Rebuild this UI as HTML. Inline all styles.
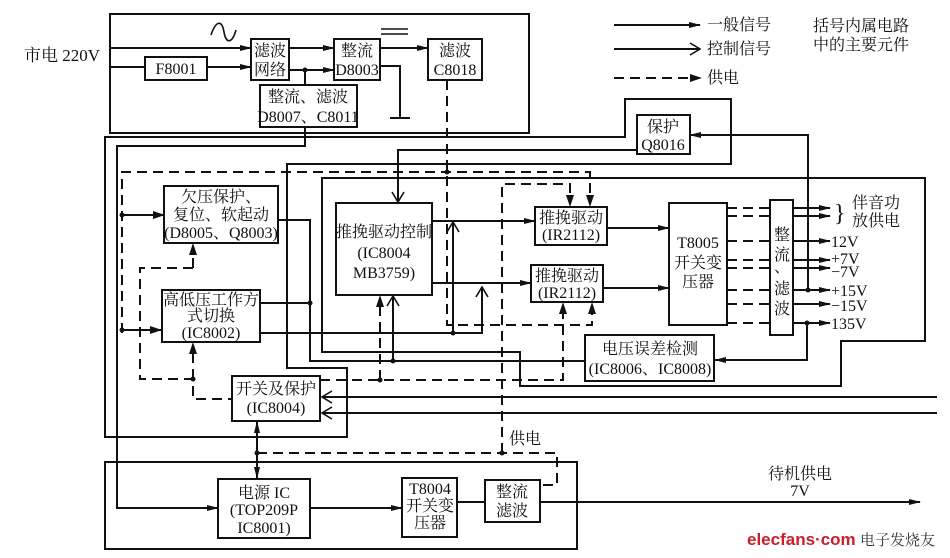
<!DOCTYPE html>
<html><head><meta charset="utf-8"><style>
html,body{margin:0;padding:0;background:#fff;}
svg{display:block;}
text{font-family:"Liberation Serif","Noto Serif CJK SC","Noto Sans CJK SC",serif;fill:#111;font-size:16px;}
.t{text-anchor:middle;}
</style></head><body>
<svg width="950" height="558" viewBox="0 0 950 558" xmlns="http://www.w3.org/2000/svg">
<defs>
<marker id="f" markerWidth="12" markerHeight="8" refX="11" refY="4" orient="auto" markerUnits="userSpaceOnUse"><path d="M0,1 L12,4 L0,7 Z" fill="#111"/></marker>
<marker id="o" markerWidth="12" markerHeight="14" refX="11" refY="7" orient="auto" markerUnits="userSpaceOnUse"><path d="M1,1 L11,7 L1,13" fill="none" stroke="#111" stroke-width="1.6"/></marker>
</defs>
<g fill="none" stroke="#111" stroke-width="2">
<rect x="110" y="14" width="419" height="119"/>
<path d="M110 48 H251" marker-end="url(#f)"/>
<path d="M110 67 H145"/>
<path d="M207 67 H251" marker-end="url(#f)"/>
<path d="M289 48 H334" marker-end="url(#f)"/>
<path d="M289 70 H334" marker-end="url(#f)"/>
<path d="M380 48 H428" marker-end="url(#f)"/>
<path d="M380 66 H400 V118 M390 118 H410"/>
<path d="M305 70 V85"/>
<path d="M305 127 V146 H117 V508 H218" marker-end="url(#f)"/>
<path d="M211 35 C216 20,222 20,224 32 C226 44,232 44,236 30" stroke-width="1.6"/>
<path d="M381 29 H408 M381 34 H408" stroke-width="1.4"/>
<rect x="251" y="39" width="38" height="41"/>
<rect x="334" y="39" width="46" height="41"/>
<rect x="428" y="39" width="54" height="41"/>
<rect x="145" y="57" width="62" height="23"/>
<rect x="260" y="85" width="97" height="42"/>
<path d="M105 137 H625 V99 H731 V164 H287 V368 H347 V437 H105 Z"/>
<rect x="637" y="115" width="53" height="39"/>
<path d="M637 150 H398 V202" marker-end="url(#o)"/>
<path d="M808 290 V135 H690" marker-end="url(#f)"/>
<path d="M322 178 H925 V341 H841 V386 H520 V352 H322 Z"/>
<rect x="164" y="186" width="114" height="57"/>
<rect x="162" y="290" width="98" height="52"/>
<rect x="232" y="376" width="88" height="45"/>
<rect x="336" y="203" width="96" height="92"/>
<rect x="535" y="207" width="72" height="38"/>
<rect x="531" y="265" width="72" height="37"/>
<rect x="669" y="203" width="58" height="122"/>
<rect x="770" y="200" width="23" height="135"/>
<rect x="585" y="335" width="129" height="46"/>
<path d="M278 220 H310 V361 H585"/>
<path d="M260 303 H310"/>
<path d="M260 333 H482 V289" />
<path d="M482 300 V287" marker-end="url(#o)"/>
<path d="M453 333 V222" marker-end="url(#o)"/>
<path d="M432 221 H535" marker-end="url(#f)"/>
<path d="M432 283 H531" marker-end="url(#f)"/>
<path d="M393 361 V296" marker-end="url(#o)"/>
<path d="M607 228 H669" marker-end="url(#f)"/>
<path d="M603 288 H669" marker-end="url(#f)"/>
<path d="M807 323 V360 H715" marker-end="url(#f)"/>
<path d="M937 397 H322" marker-end="url(#o)"/>
<path d="M937 413 H322" marker-end="url(#o)"/>
<path d="M257 453 V422" marker-end="url(#f)"/>
<path d="M257 453 V478" marker-end="url(#f)"/>
<rect x="105" y="462" width="472" height="87"/>
<rect x="218" y="479" width="92" height="59"/>
<rect x="402" y="478" width="55" height="59"/>
<rect x="485" y="480" width="55" height="42"/>
<path d="M310 508 H402" marker-end="url(#f)"/>
<path d="M457 502 H485"/>
<path d="M540 502 H920" marker-end="url(#f)"/>
<path d="M793 208 H830" marker-end="url(#f)"/>
<path d="M793 216 H830" marker-end="url(#f)"/>
<path d="M793 241 H830" marker-end="url(#f)"/>
<path d="M793 260 H830" marker-end="url(#f)"/>
<path d="M793 268 H830" marker-end="url(#f)"/>
<path d="M793 290 H830" marker-end="url(#f)"/>
<path d="M793 304 H830" marker-end="url(#f)"/>
<path d="M793 323 H830" marker-end="url(#f)"/>
<path d="M614 25 H700" marker-end="url(#f)"/>
<path d="M614 49 H700" marker-end="url(#o)"/>
</g>
<g fill="none" stroke="#111" stroke-width="2" stroke-dasharray="10,6">
<path d="M727 208 H770 M727 216 H770 M727 241 H770 M727 260 H770 M727 268 H770 M727 290 H770 M727 304 H770 M727 323 H770"/>
<path d="M614 78 H690"/>
<path d="M447 80 V325 H592 V304"/>
<path d="M122 333 V172 H590 V202"/>
<path d="M502 453 V184 H570 V202"/>
<path d="M193 268 H140 V379 H193 V399 H232"/>
<path d="M193 379 V345"/>
<path d="M193 268 V247"/>
<path d="M320 380 H563 V306"/>
<path d="M380 380 V298"/>
<path d="M257 453 H557 V485 H540"/>
</g>
<g fill="#111" stroke="none">
<path d="M690 74 L702 78 L690 82Z"/>
<path d="M122 215 L165 215" stroke="#111" stroke-width="2"/>
<path d="M153 211 L165 215 L153 219Z"/>
<path d="M122 330 L162 330" stroke="#111" stroke-width="2"/>
<path d="M150 326 L162 330 L150 334Z"/>
<path d="M189 255 L193 243 L197 255Z"/>
<path d="M189 354 L193 342 L197 354Z"/>
<path d="M376 307 L380 295 L384 307Z"/>
<path d="M559 314 L563 302 L567 314Z"/>
<path d="M588 314 L592 302 L596 314Z"/>
<path d="M566 195 L570 207 L574 195Z"/>
<path d="M586 195 L590 207 L594 195Z"/>
<circle cx="305" cy="70" r="2.5"/><circle cx="122" cy="215" r="2.5"/><circle cx="122" cy="330" r="2.5"/>
<circle cx="193" cy="379" r="2.5"/><circle cx="310" cy="303" r="2.5"/><circle cx="393" cy="361" r="2.5"/>
<circle cx="453" cy="333" r="2.5"/><circle cx="380" cy="380" r="2.5"/><circle cx="447" cy="172" r="2.5"/>
<circle cx="257" cy="453" r="2.5"/><circle cx="502" cy="453" r="2.5"/><circle cx="808" cy="290" r="2.5"/><circle cx="807" cy="323" r="2.5"/>
</g>
<text x="24" y="61" style="font-size:17px">市电 220V</text>
<text class="t" x="270" y="56">滤波</text><text class="t" x="270" y="75">网络</text>
<text class="t" x="357" y="56">整流</text><text class="t" x="357" y="75">D8003</text>
<text class="t" x="455" y="56">滤波</text><text class="t" x="455" y="75">C8018</text>
<text class="t" x="176" y="74">F8001</text>
<text class="t" x="308" y="102">整流、滤波</text><text class="t" x="308" y="122">D8007、C8011</text>
<text class="t" x="663" y="132">保护</text><text class="t" x="663" y="150">Q8016</text>
<text class="t" x="221" y="202">欠压保护、</text><text class="t" x="221" y="220">复位、软起动</text><text class="t" x="221" y="238">(D8005、Q8003)</text>
<text class="t" x="211" y="305">高低压工作方</text><text class="t" x="211" y="321">式切换</text><text class="t" x="211" y="338">(IC8002)</text>
<text class="t" x="276" y="394">开关及保护</text><text class="t" x="276" y="413">(IC8004)</text>
<text class="t" x="384" y="237">推挽驱动控制</text><text class="t" x="384" y="258">(IC8004</text><text class="t" x="384" y="278">MB3759)</text>
<text class="t" x="571" y="223">推挽驱动</text><text class="t" x="571" y="240">(IR2112)</text>
<text class="t" x="567" y="281">推挽驱动</text><text class="t" x="567" y="298">(IR2112)</text>
<text class="t" x="698" y="248">T8005</text><text class="t" x="698" y="268">开关变</text><text class="t" x="698" y="287">压器</text>
<text class="t" x="782" y="240">整</text><text class="t" x="782" y="260">流</text><text class="t" x="782" y="272">、</text><text class="t" x="782" y="294">滤</text><text class="t" x="782" y="314">波</text>
<text x="834" y="221" style="font-size:24px">}</text>
<text x="852" y="208">伴音功</text><text x="852" y="226">放供电</text>
<text x="831" y="247">12V</text><text x="831" y="264">+7V</text><text x="831" y="277">−7V</text>
<text x="831" y="296">+15V</text><text x="831" y="311">−15V</text><text x="831" y="329">135V</text>
<text class="t" x="650" y="354">电压误差检测</text><text class="t" x="650" y="374">(IC8006、IC8008)</text>
<text x="509" y="444">供电</text>
<text class="t" x="264" y="498">电源 IC</text><text class="t" x="264" y="515">(TOP209P</text><text class="t" x="264" y="533">IC8001)</text>
<text class="t" x="430" y="494">T8004</text><text class="t" x="430" y="511">开关变</text><text class="t" x="430" y="528">压器</text>
<text class="t" x="512" y="497">整流</text><text class="t" x="512" y="516">滤波</text>
<text class="t" x="800" y="479">待机供电</text><text class="t" x="800" y="496">7V</text>
<text x="707" y="30">一般信号</text><text x="707" y="54">控制信号</text><text x="707" y="83">供电</text>
<text x="813" y="31">括号内属电路</text><text x="813" y="50">中的主要元件</text>
<text x="747" y="545" style="font-family:'Liberation Sans',sans-serif;font-size:17px;fill:#c8202a;font-weight:bold">elecfans·com</text>
<text x="860" y="545" style="font-size:15px;fill:#333">电子发烧友</text>
</svg>
</body></html>
